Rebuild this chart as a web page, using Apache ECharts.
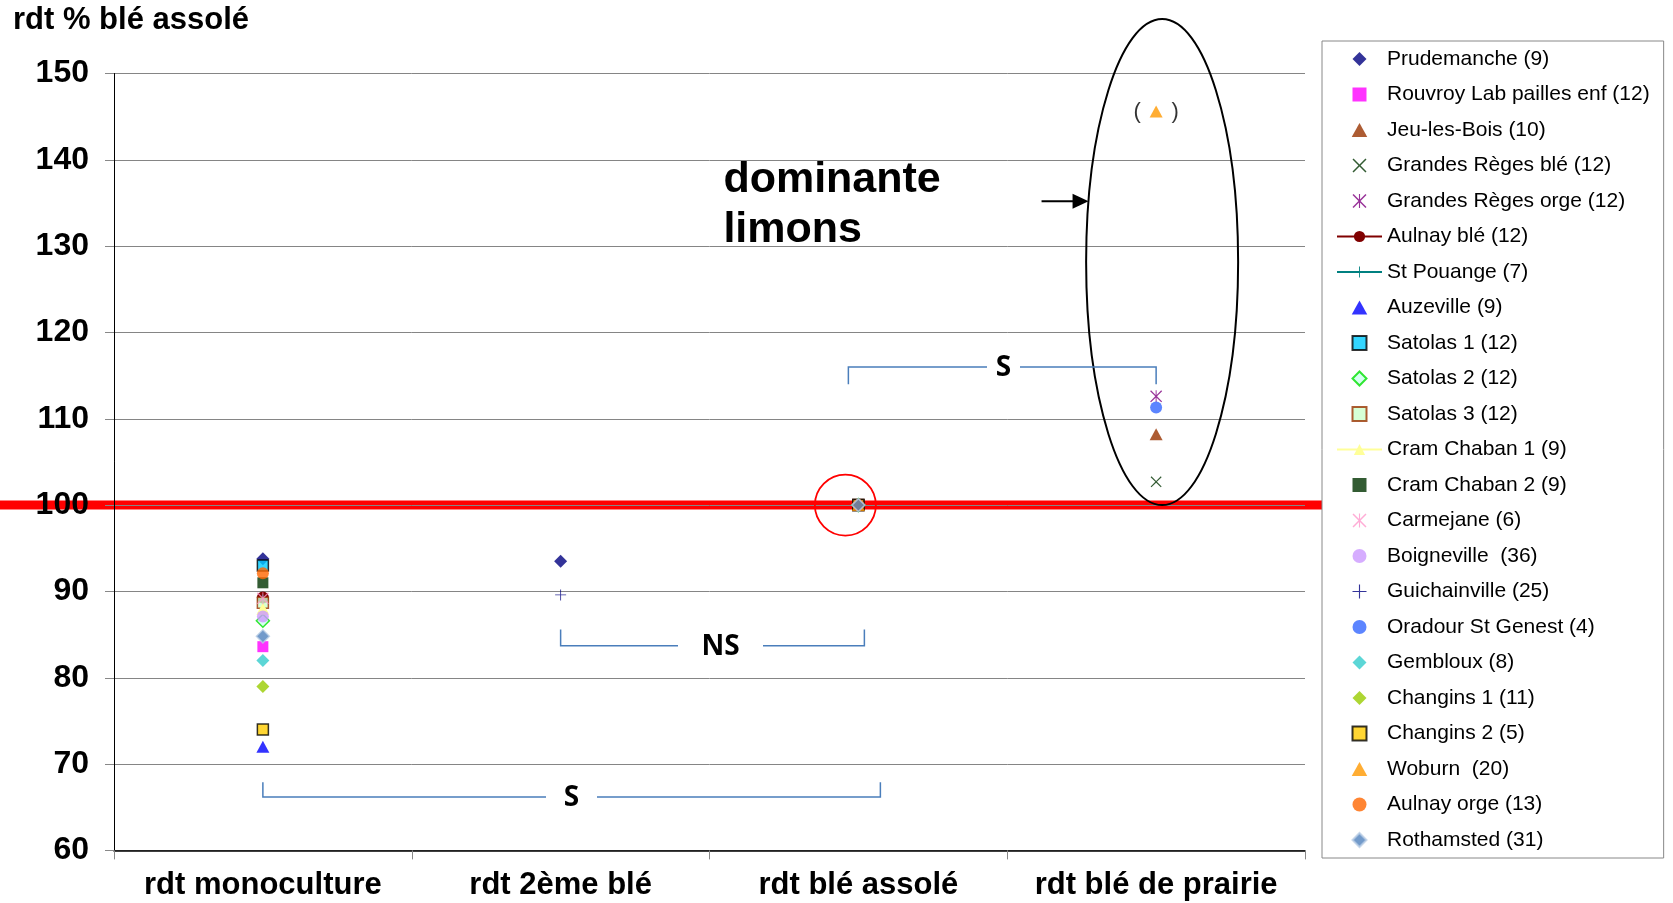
<!DOCTYPE html>
<html>
<head>
<meta charset="utf-8">
<title>Rendement du blé selon le précédent</title>
<script src="https://cdn.jsdelivr.net/npm/echarts@6/dist/echarts.min.js"></script>
<style>
  html, body { margin: 0; padding: 0; background: #fff; }
  #chart { width: 1673px; height: 903px; }
</style>
</head>
<body>
<div id="chart"></div>
<script>
// Categories on the x axis
const categories = ['rdt monoculture', 'rdt 2ème blé', 'rdt blé assolé', 'rdt blé de prairie'];
// y axis range and tick step
const yMin = 60;
const yMax = 150;
const yStep = 10;

// Yield as % of rotated wheat, one value per category (null = no value)
const prudemanche      = [93.8, 93.5, 100, null];
const rouvroy          = [83.6, null, 100, null];
const jeuLesBois       = [null, null, 100, 108.2];
const grandesRegesBle  = [null, null, 100, 102.7];
const grandesRegesOrge = [null, null, 100, 112.6];
const aulnayBle        = [89.3, null, 100, null];
const stPouange        = [89.0, null, 100, null];
const auzeville        = [72.0, null, 100, null];
const satolas1         = [93.0, null, 100, null];
const satolas2         = [86.6, null, 100, null];
const satolas3         = [88.7, null, 100, null];
const cramChaban1      = [88.0, null, 100, null];
const cramChaban2      = [91.0, null, 100, null];
const carmejane        = [89.2, null, 100, null];
const boigneville      = [87.1, null, 100, null];
const guichainville    = [null, 89.6, 100, null];
const oradour          = [null, null, 100, 111.3];
const gembloux         = [82.0, null, 100, null];
const changins1        = [79.0, null, 100, null];
const changins2        = [74.0, null, 100, null];
const woburn           = [null, null, 100, 145.6];
const aulnayOrge       = [92.1, null, 100, null];
const rothamsted       = [84.8, null, 100, null];

// Marker shapes
const X_PATH = 'path://M1.5,0L10,8.5L18.5,0L20,1.5L11.5,10L20,18.5L18.5,20L10,11.5L1.5,20L0,18.5L8.5,10L0,1.5Z';
const STAR_PATH = X_PATH + 'M9.2,0L10.8,0L10.8,20L9.2,20Z';
const PLUS_PATH = 'path://M9.2,0L10.8,0L10.8,9.2L20,9.2L20,10.8L10.8,10.8L10.8,20L9.2,20L9.2,10.8L0,10.8L0,9.2L9.2,9.2Z';
// square-proportioned shapes for the legend keys
const LEGEND_ICONS = {
  diamond: 'path://M10,0L20,10L10,20L0,10Z',
  rect: 'path://M0,0L20,0L20,20L0,20Z',
  triangle: 'path://M10,0L20,18L0,18Z'
};

const SIZES = { diamond: 13, rect: 11, triangle: [13, 12], circle: 12 };
function sizeOf(symbol) {
  if (SIZES[symbol]) return SIZES[symbol];
  if (symbol === X_PATH) return 11;
  if (symbol === STAR_PATH) return 12;
  return 11;
}

const sites = [
  { name: 'Prudemanche (9)',              values: prudemanche,      symbol: 'diamond',  color: '#000080' },
  { name: 'Rouvroy Lab pailles enf (12)', values: rouvroy,          symbol: 'rect',     color: '#ff00ff' },
  { name: 'Jeu-les-Bois (10)',            values: jeuLesBois,       symbol: 'triangle', color: '#993300' },
  { name: 'Grandes Règes blé (12)',       values: grandesRegesBle,  symbol: X_PATH,     color: '#003300' },
  { name: 'Grandes Règes orge (12)',      values: grandesRegesOrge, symbol: STAR_PATH,  color: '#800080' },
  { name: 'Aulnay blé (12)',              values: aulnayBle,        symbol: 'circle',   color: '#800000', line: true },
  { name: 'St Pouange (7)',               values: stPouange,        symbol: PLUS_PATH,  color: '#008080', line: true },
  { name: 'Auzeville (9)',                values: auzeville,        symbol: 'triangle', color: '#0000ff' },
  { name: 'Satolas 1 (12)',               values: satolas1,         symbol: 'rect',     color: '#00ccff', border: '#000000' },
  { name: 'Satolas 2 (12)',               values: satolas2,         symbol: 'diamond',  color: '#ccffee', border: '#00e000' },
  { name: 'Satolas 3 (12)',               values: satolas3,         symbol: 'rect',     color: '#ccffcc', border: '#993300' },
  { name: 'Cram Chaban 1 (9)',            values: cramChaban1,      symbol: 'triangle', color: '#ffff99', line: true },
  { name: 'Cram Chaban 2 (9)',            values: cramChaban2,      symbol: 'rect',     color: '#003300' },
  { name: 'Carmejane (6)',                values: carmejane,        symbol: STAR_PATH,  color: '#ff99cc' },
  { name: 'Boigneville  (36)',            values: boigneville,      symbol: 'circle',   color: '#cc99ff' },
  { name: 'Guichainville (25)',           values: guichainville,    symbol: PLUS_PATH,  color: '#000080' },
  { name: 'Oradour St Genest (4)',        values: oradour,          symbol: 'circle',   color: '#3366ff' },
  { name: 'Gembloux (8)',                 values: gembloux,         symbol: 'diamond',  color: '#33cccc' },
  { name: 'Changins 1 (11)',              values: changins1,        symbol: 'diamond',  color: '#99cc00' },
  { name: 'Changins 2 (5)',               values: changins2,        symbol: 'rect',     color: '#ffcc00', border: '#000000' },
  { name: 'Woburn  (20)',                 values: woburn,           symbol: 'triangle', color: '#ff9900', bracketed: 3 },
  { name: 'Aulnay orge (13)',             values: aulnayOrge,       symbol: 'circle',   color: '#ff6600' },
  { name: 'Rothamsted (31)',              values: rothamsted,       symbol: 'diamond',  color: '#4f81bd', border: '#b9cde5', top: true }
];

const FONT = '"Liberation Sans", Arial, sans-serif';

const series = sites.map(function (s) {
  const itemStyle = { color: s.color };
  if (s.border) { itemStyle.borderColor = s.border; itemStyle.borderWidth = 1.5; }
  const base = {
    name: s.name,
    type: s.line ? 'line' : 'scatter',
    symbol: s.symbol,
    symbolSize: sizeOf(s.symbol),
    itemStyle: itemStyle,
    data: s.values.map(function (v) { return v === null ? '-' : v; }),
    emphasis: { disabled: true },
    z: s.top ? 4 : 2,
    animation: false
  };
  if (s.line) {
    base.showSymbol = true;
    base.showAllSymbol = true;
    base.connectNulls = false;
    base.lineStyle = { color: s.color, width: 2 };
  }
  if (s.bracketed !== undefined) {
    const idx = s.bracketed;
    base.label = {
      show: true,
      position: 'inside',
      color: '#000',
      fontFamily: FONT,
      fontSize: 22,
      formatter: function (p) { return p.dataIndex === idx ? '(     )' : ''; }
    };
  }
  return base;
});

const legendData = sites.map(function (s) {
  const item = { name: s.name };
  if (!s.line && LEGEND_ICONS[s.symbol]) item.icon = LEGEND_ICONS[s.symbol];
  return item;
});

const chart = echarts.init(document.getElementById('chart'));

chart.setOption({
  animation: false,
  backgroundColor: '#ffffff',
  title: {
    text: 'rdt % blé assolé',
    left: 13,
    top: 5,
    padding: 0,
    textStyle: { fontFamily: FONT, fontSize: 31, fontWeight: 'bold', color: '#000' }
  },
  grid: {
    left: 114,
    right: 368,
    top: 73.5,
    bottom: 52.6,
    containLabel: false,
    outerBoundsMode: 'none'
  },
  legend: {
    orient: 'vertical',
    left: 1322,
    top: 41,
    padding: [7, 14, 7, 14],
    itemWidth: 45,
    itemHeight: 14,
    itemGap: 13.5,
    symbolKeepAspect: true,
    borderColor: '#888',
    borderWidth: 1,
    backgroundColor: 'transparent',
    selectedMode: false,
    textStyle: { fontFamily: FONT, fontSize: 21, color: '#000', lineHeight: 22 },
    data: legendData
  },
  xAxis: {
    type: 'category',
    data: categories,
    boundaryGap: true,
    axisLine: { lineStyle: { color: '#000', width: 1.5 } },
    axisTick: { show: true, interval: 0, length: 9, lineStyle: { color: '#888' } },
    axisLabel: { interval: 0, margin: 20, fontFamily: FONT, fontSize: 31, fontWeight: 'bold', color: '#000' },
    splitLine: { show: false }
  },
  yAxis: {
    type: 'value',
    min: yMin,
    max: yMax,
    interval: yStep,
    axisLine: { show: true, lineStyle: { color: '#000', width: 1 } },
    axisTick: { show: true, length: 9, lineStyle: { color: '#888' } },
    axisLabel: { margin: 25, fontFamily: FONT, fontSize: 32, fontWeight: 'bold', color: '#000' },
    splitLine: { show: true, lineStyle: { color: '#858585', width: 1 } }
  },
  series: series
});

// ---- annotations, placed from data coordinates ----
function xOf(cat) { return chart.convertToPixel({ xAxisIndex: 0 }, cat); }
function yOf(val) { return chart.convertToPixel({ yAxisIndex: 0 }, val); }

const RED_END = 1322; // the reference band runs up to the legend box
const BRACKET_COLOR = '#4a7ebb';
const SIG_FONT = '"Open Sans", "Liberation Sans", sans-serif';

// significance brackets: ends as [category, pixel offset], line level and tick end in y units
const brackets = [
  { left: [2, -10], right: [3, 0],  line: 116.0, tick: 114.0, text: 'S',  gap: [987, 1020] },
  { left: [1, 0],   right: [2, 6],  line: 83.7,  tick: 85.6,  text: 'NS', gap: [678, 763] },
  { left: [0, 0],   right: [2, 22], line: 66.2,  tick: 67.9,  text: 'S',  gap: [546, 597] }
];

const graphics = [];

// reference level: rotated wheat = 100
const y100 = yOf(100);
graphics.push({
  type: 'rect', z: -1,
  shape: { x: 0, y: y100 - 4.5, width: RED_END, height: 9 },
  style: { fill: '#ff0000' }
});

// circle around the reference point
graphics.push({
  type: 'circle', z: 10,
  shape: { cx: xOf(2) - 13, cy: y100, r: 30.5 },
  style: { fill: 'none', stroke: '#ff0000', lineWidth: 1.8 }
});

// ellipse around the grassland values
const eTop = yOf(156.3), eBottom = yOf(100);
const ecx = xOf(3) + 6, ecy = (eTop + eBottom) / 2, erx = 76, ery = (eBottom - eTop) / 2;
graphics.push({
  type: 'ellipse', z: 10,
  shape: { cx: ecx, cy: ecy, rx: erx, ry: ery },
  style: { fill: 'none', stroke: '#000', lineWidth: 2 }
});

// arrow pointing at the ellipse
const ay = yOf(135.2);
const dy = (ay - ecy) / ery;
const tipX = ecx - erx * Math.sqrt(Math.max(0, 1 - dy * dy));
graphics.push({
  type: 'line', z: 10,
  shape: { x1: tipX - 47, y1: ay, x2: tipX - 12, y2: ay },
  style: { stroke: '#000', lineWidth: 2 }
});
graphics.push({
  type: 'polygon', z: 10,
  shape: { points: [[tipX - 16, ay - 7.5], [tipX, ay], [tipX - 16, ay + 7.5]] },
  style: { fill: '#000' }
});

// caption
graphics.push({
  type: 'text', z: 10,
  x: xOf(2) - 135, y: yOf(134.7),
  style: {
    text: 'dominante\nlimons',
    fontFamily: FONT, fontSize: 43, fontWeight: 'bold', lineHeight: 50,
    fill: '#000',
    align: 'left', verticalAlign: 'middle',
    textAlign: 'left', textVerticalAlign: 'middle'
  }
});

brackets.forEach(function (b) {
  const x1 = xOf(b.left[0]) + b.left[1];
  const x2 = xOf(b.right[0]) + b.right[1];
  const yl = yOf(b.line), yt = yOf(b.tick);
  graphics.push({
    type: 'polyline', z: 10,
    shape: { points: [[x1, yt], [x1, yl], [b.gap[0], yl]] },
    style: { fill: 'none', stroke: BRACKET_COLOR, lineWidth: 1.5 }
  });
  graphics.push({
    type: 'polyline', z: 10,
    shape: { points: [[b.gap[1], yl], [x2, yl], [x2, yt]] },
    style: { fill: 'none', stroke: BRACKET_COLOR, lineWidth: 1.5 }
  });
  graphics.push({
    type: 'text', z: 10,
    x: (b.gap[0] + b.gap[1]) / 2, y: yl + 1,
    style: {
      text: b.text,
      fontFamily: SIG_FONT, fontSize: 28, fontWeight: 'bold',
      fill: '#000',
      align: 'center', verticalAlign: 'middle',
      textAlign: 'center', textVerticalAlign: 'middle'
    }
  });
});

chart.setOption({ graphic: graphics });
</script>
</body>
</html>
